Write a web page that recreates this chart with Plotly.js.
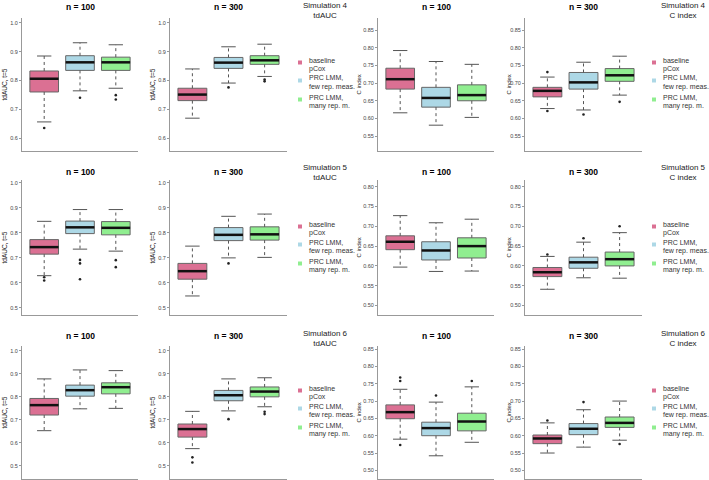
<!DOCTYPE html>
<html>
<head>
<meta charset="utf-8">
<script src="https://cdn.plot.ly/plotly-3.0.1.min.js"></script>
<style>
  html, body { margin: 0; padding: 0; background: #fff; }
  #plot { width: 709px; height: 480px; }
</style>
</head>
<body>
<div id="plot"></div>
<script>
// groups and their colours
const groups = ["baseline<br>pCox", "PRC LMM,<br>few rep. meas.", "PRC LMM,<br>many rep. m."];
const colors = ["#DB7093", "#ADD8E6", "#90EE90"];

const simulations = ["Simulation 4", "Simulation 5", "Simulation 6"];
const measures = ["tdAUC", "C index"];
const sampleSizes = ["n = 100", "n = 300", "n = 100", "n = 300"];
const yTitles = ["tdAUC, t=5", "tdAUC, t=5", "C index", "C index"];

// 12 panels, row by row: [tdAUC n=100, tdAUC n=300, C n=100, C n=300]
// each entry: [baseline, few rep., many rep.]
const whiskLow = [
  [0.656, 0.764, 0.773], [0.669, 0.791, 0.814], [0.616, 0.581, 0.603], [0.628, 0.624, 0.666],
  [0.629, 0.735, 0.727], [0.548, 0.700, 0.702], [0.597, 0.586, 0.587], [0.541, 0.570, 0.569],
  [0.652, 0.747, 0.749], [0.574, 0.738, 0.756], [0.590, 0.542, 0.581], [0.550, 0.567, 0.587]
];
const quart1 = [
  [0.760, 0.835, 0.835], [0.730, 0.842, 0.856], [0.683, 0.632, 0.650], [0.661, 0.683, 0.705],
  [0.715, 0.797, 0.792], [0.615, 0.769, 0.771], [0.641, 0.615, 0.620], [0.573, 0.594, 0.600],
  [0.720, 0.802, 0.812], [0.624, 0.782, 0.799], [0.649, 0.600, 0.614], [0.577, 0.603, 0.624]
];
const medians = [
  [0.806, 0.863, 0.863], [0.751, 0.862, 0.870], [0.711, 0.658, 0.666], [0.678, 0.702, 0.722],
  [0.743, 0.822, 0.820], [0.647, 0.792, 0.794], [0.661, 0.639, 0.650], [0.584, 0.609, 0.617],
  [0.763, 0.828, 0.841], [0.659, 0.806, 0.822], [0.668, 0.622, 0.641], [0.592, 0.620, 0.637]
];
const quart3 = [
  [0.833, 0.886, 0.881], [0.773, 0.880, 0.886], [0.742, 0.688, 0.695], [0.688, 0.730, 0.741],
  [0.773, 0.847, 0.845], [0.678, 0.821, 0.824], [0.676, 0.661, 0.671], [0.596, 0.622, 0.635],
  [0.792, 0.850, 0.860], [0.681, 0.827, 0.842], [0.689, 0.639, 0.665], [0.602, 0.635, 0.654]
];
const whiskHigh = [
  [0.885, 0.931, 0.924], [0.840, 0.917, 0.926], [0.792, 0.761, 0.753], [0.717, 0.759, 0.776],
  [0.846, 0.893, 0.893], [0.747, 0.866, 0.875], [0.727, 0.709, 0.718], [0.624, 0.660, 0.684],
  [0.877, 0.916, 0.913], [0.736, 0.877, 0.882], [0.734, 0.697, 0.741], [0.637, 0.675, 0.700]
];
const outliers = [
  [[0.635], [0.740], [0.749, 0.734]], [[], [0.776], [0.803, 0.797]], [[], [], []], [[0.731, 0.621], [0.611], [0.647]],
  [[0.623, 0.610], [0.692, 0.678, 0.615], [0.691, 0.663]], [[], [0.678], []], [[], [], []], [[0.629], [0.670], [0.700]],
  [[], [], []], [[0.536, 0.514], [0.702], [0.734, 0.724]], [[0.768, 0.758, 0.573], [0.716], [0.758]], [[0.644], [0.697], [0.576]]
];

// layout in pixels of the 709x480 page
const W = 709, H = 480;
const px = v => v / W;
const py = v => 1 - v / H;
const colDom = [[22, 138], [170, 287], [378, 494], [525, 642]];
const rowDom = [[18, 151], [180, 315], [346, 479]];
const yRanges = [   // [tdAUC, C index] per row
  [[0.555, 1.017], [0.508, 0.884]],
  [[0.472, 1.011], [0.476, 0.817]],
  [[0.442, 1.020], [0.475, 0.859]]
];
const titleY = [7, 172, 336];
const simTitleY = [10, 172.5, 338.5];
const legendLine1 = [60, 224, 388];
const itemOffset = [0, 18, 37];
const legendTextX = [307, 661];
const axisGray = "#999";
const font = "Liberation Sans, Arial, Helvetica, sans-serif";

const data = [];
const layout = {
  width: W, height: H,
  margin: {l: 0, r: 0, t: 0, b: 0},
  paper_bgcolor: "#fff", plot_bgcolor: "rgba(0,0,0,0)",
  font: {family: font, color: "#000"},
  showlegend: false,
  annotations: [],
  shapes: []
};

for (let i = 0; i < 12; i++) {
  const r = Math.floor(i / 4), c = i % 4, m = c < 2 ? 0 : 1;
  const k = i === 0 ? "" : String(i + 1);
  const xa = "x" + k, ya = "y" + k;

  layout["xaxis" + k] = {
    domain: [px(colDom[c][0]), px(colDom[c][1])],
    range: [0.38, 3.62], anchor: ya,
    showline: true, linecolor: axisGray, linewidth: 1,
    showgrid: false, zeroline: false, showticklabels: false, ticks: "",
    fixedrange: true
  };
  layout["yaxis" + k] = {
    domain: [py(rowDom[r][1]), py(rowDom[r][0])],
    range: yRanges[r][m], anchor: xa,
    showline: true, linecolor: axisGray, linewidth: 1,
    showgrid: false, zeroline: false,
    ticks: "outside", ticklen: 2, tickwidth: 1, tickcolor: axisGray,
    tick0: 0, dtick: m === 0 ? 0.1 : 0.05, tickformat: m === 0 ? ".1f" : ".2f",
    tickfont: {size: 5.5, color: "#444"},
    fixedrange: true
  };

  const wx = [], wy = [], cx = [], cy = [], mx = [], my = [], ox = [], oy = [];
  for (let g = 0; g < 3; g++) {
    const p = g + 1;
    wx.push(p, p, null, p, p, null);
    wy.push(quart3[i][g], whiskHigh[i][g], null, quart1[i][g], whiskLow[i][g], null);
    cx.push(p - 0.2, p + 0.2, null, p - 0.2, p + 0.2, null);
    cy.push(whiskHigh[i][g], whiskHigh[i][g], null, whiskLow[i][g], whiskLow[i][g], null);
    mx.push(p - 0.4, p + 0.4, null);
    my.push(medians[i][g], medians[i][g], null);
    outliers[i][g].forEach(v => { ox.push(p); oy.push(v); });
  }
  // whiskers (dotted)
  data.push({type: "scatter", mode: "lines", x: wx, y: wy, xaxis: xa, yaxis: ya,
    line: {color: "#555", width: 1, dash: "dot"}, hoverinfo: "skip"});
  for (let g = 0; g < 3; g++) {
    data.push({
      type: "box", x: [g + 1],
      q1: [quart1[i][g]], median: [medians[i][g]], q3: [quart3[i][g]],
      lowerfence: [quart1[i][g]], upperfence: [quart3[i][g]],
      width: 0.8, whiskerwidth: 0, boxpoints: false,
      fillcolor: colors[g], line: {color: "#666", width: 1},
      xaxis: xa, yaxis: ya, hoverinfo: "skip"
    });
  }
  // medians, caps, outliers
  data.push({type: "scatter", mode: "lines", x: mx, y: my, xaxis: xa, yaxis: ya,
    line: {color: "#111", width: 2.5}, hoverinfo: "skip"});
  data.push({type: "scatter", mode: "lines", x: cx, y: cy, xaxis: xa, yaxis: ya,
    line: {color: "#555", width: 1}, hoverinfo: "skip"});
  data.push({type: "scatter", mode: "markers", x: ox, y: oy, xaxis: xa, yaxis: ya,
    marker: {color: "#222", size: 2.6}, hoverinfo: "skip"});

  // panel title
  layout.annotations.push({
    text: "<b>" + sampleSizes[c] + "</b>", xref: "paper", yref: "paper",
    x: px((colDom[c][0] + colDom[c][1]) / 2), y: py(titleY[r]),
    xanchor: "center", yanchor: "middle", showarrow: false,
    font: {size: 8.5, color: "#000"}
  });
  // y title
  const yTitleX = [4, 152, 358, 508][c];
  layout.annotations.push({
    text: yTitles[c], xref: "paper", yref: "paper", textangle: -90,
    x: px(yTitleX), y: py((rowDom[r][0] + rowDom[r][1]) / 2),
    xanchor: "center", yanchor: "middle", showarrow: false,
    font: {size: m === 0 ? 6.5 : 6, color: "#222"}
  });
}

// legends: one per row and measure, to the right of each pair of panels
for (let r = 0; r < 3; r++) {
  for (let j = 0; j < 2; j++) {
    const textX = legendTextX[j];
    const keyX = textX - 7;
    layout.annotations.push({
      text: simulations[r] + "<br>" + measures[j], xref: "paper", yref: "paper",
      x: px(j === 0 ? 325 : 683), y: py(simTitleY[r]),
      xanchor: "center", yanchor: "middle", showarrow: false,
      font: {size: 8, color: "#222"}
    });
    for (let g = 0; g < 3; g++) {
      const top = legendLine1[r] + itemOffset[g];
      groups[g].split("<br>").forEach((line, li) => {
        layout.annotations.push({
          text: line, xref: "paper", yref: "paper",
          x: px(textX), y: py(top + li * 9),
          xanchor: "left", yanchor: "middle", showarrow: false,
          font: {size: 7, color: "#333"}
        });
      });
      const ky = top + 2.5;
      layout.shapes.push({
        type: "rect", xref: "paper", yref: "paper",
        x0: px(keyX - 2), x1: px(keyX + 2), y0: py(ky + 2), y1: py(ky - 2),
        fillcolor: colors[g], line: {width: 0}
      });
    }
  }
}

Plotly.newPlot("plot", data, layout, {staticPlot: true, responsive: false});
</script>
</body>
</html>
